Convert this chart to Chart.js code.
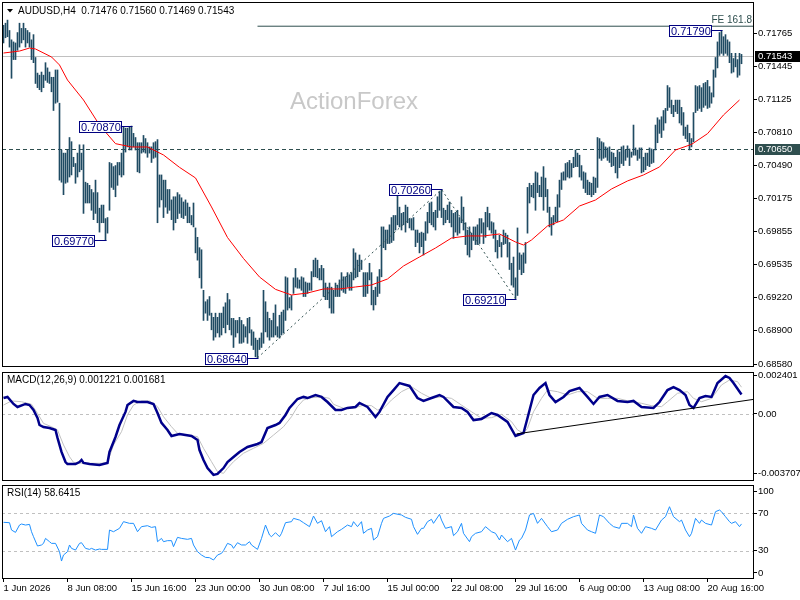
<!DOCTYPE html>
<html>
<head>
<meta charset="utf-8">
<script src="https://cdn.jsdelivr.net/npm/chart.js@4.4.1/dist/chart.umd.min.js"></script>
<style>
  html, body { margin: 0; padding: 0; background: #fff; }
  #wrap { position: relative; width: 800px; height: 600px; overflow: hidden; background: #fff; }
  canvas { position: absolute; left: 0; }
</style>
</head>
<body>
<div id="wrap">
  <canvas id="priceChart" width="800" height="368" style="top:0px"></canvas>
  <canvas id="macdChart" width="800" height="112" style="top:370px"></canvas>
  <canvas id="rsiChart" width="800" height="117" style="top:483px"></canvas>
</div>
<script>
// time axis (bar index) and its labels
const tickBars = [0, 32, 64, 96, 128, 160, 192, 224, 256, 288, 320, 352];
const tickLabels = ['1 Jun 2026', '8 Jun 08:00', '15 Jun 16:00', '23 Jun 00:00', '30 Jun 08:00', '7 Jul 16:00',
  '15 Jul 00:00', '22 Jul 08:00', '29 Jul 16:00', '6 Aug 00:00', '13 Aug 08:00', '20 Aug 16:00'];
const priceTicks = [0.71765, 0.71445, 0.71125, 0.70810, 0.70490, 0.70175, 0.69855, 0.69535, 0.69220, 0.68900, 0.68580];
const macdTicks = [0.002401, 0, -0.003707];
const macdTickLabels = ['0.002401', '0.00', '-0.003707'];
const rsiTicks = [93.5, 70, 30, 6.5];
const rsiTickLabels = ['100', '70', '30', '0'];

// H4 bars, high / low
const highs = [
  .7184,.7186,.7189,.7179,.7170,.7168,.7167,.7177,.7186,.7181,
  .7186,.7181,.7179,.7177,.7170,.7175,.7153,.7138,.7136,.7139,
  .7136,.7148,.7143,.7139,.7134,.7134,.7141,.7141,.7109,.7064,
  .7061,.7061,.7064,.7076,.7072,.7057,.7051,.7061,.7069,.7061,
  .7069,.7033,.7032,.7030,.7026,.7023,.7035,.7023,.7008,.7011,
  .7011,.6998,.6999,.7052,.7051,.7048,.7049,.7052,.7052,.7061,
  .7086,.7085,.7085,.7086,.7087,.7080,.7076,.7071,.7071,.7071,
  .7078,.7075,.7071,.7067,.7067,.7071,.7072,.7074,.7040,.7040,
  .7035,.7035,.7026,.7026,.7016,.7019,.7019,.7023,.7021,.7018,
  .7014,.7016,.7013,.7009,.7001,.7013,.6989,.6980,.6970,.6968,
  .6929,.6918,.6920,.6923,.6907,.6903,.6907,.6903,.6907,.6907,
  .6913,.6917,.6926,.6920,.6902,.6902,.6900,.6900,.6903,.6900,
  .6896,.6894,.6902,.6903,.6891,.6889,.6883,.6881,.6883,.6888,
  .6929,.6918,.6908,.6902,.6900,.6907,.6915,.6894,.6905,.6908,
  .6910,.6942,.6941,.6922,.6924,.6941,.6950,.6941,.6939,.6942,
  .6941,.6937,.6936,.6936,.6947,.6958,.6960,.6958,.6950,.6953,
  .6950,.6936,.6932,.6936,.6932,.6929,.6936,.6934,.6939,.6946,
  .6942,.6942,.6946,.6944,.6946,.6969,.6965,.6958,.6963,.6958,
  .6946,.6946,.6946,.6955,.6946,.6929,.6932,.6942,.6949,.6990,
  .6990,.6987,.6987,.6992,.6999,.7001,.7001,.7021,.7009,.7003,
  .7004,.7011,.7009,.6998,.6998,.6999,.6987,.6987,.6984,.6985,
  .6984,.6995,.7004,.7013,.7014,.7004,.7006,.7019,.7024,.7026,
  .7008,.7006,.7011,.7014,.7006,.7003,.7004,.7006,.6999,.7019,
  .7009,.6994,.6987,.6990,.6984,.6990,.6990,.6992,.6998,.6998,
  .6994,.7004,.7009,.7003,.6995,.6994,.6987,.6977,.6982,.6975,
  .6987,.6984,.6982,.6975,.6955,.6961,.6941,.6989,.6965,.6963,
  .6965,.6975,.7028,.7032,.7030,.7032,.7043,.7042,.7030,.7038,
  .7048,.7037,.7026,.7009,.6999,.7001,.7009,.7021,.7035,.7042,
  .7043,.7051,.7052,.7054,.7051,.7057,.7064,.7061,.7059,.7049,
  .7043,.7042,.7035,.7033,.7032,.7038,.7037,.7076,.7075,.7072,
  .7071,.7067,.7066,.7067,.7062,.7061,.7057,.7064,.7062,.7067,
  .7068,.7064,.7068,.7065,.7062,.7088,.7066,.7064,.7066,.7066,
  .7057,.7061,.7061,.7066,.7065,.7064,.7088,.7095,.7093,.7096,
  .7102,.7104,.7126,.7124,.7112,.7107,.7112,.7112,.7112,.7105,
  .7100,.7086,.7088,.7080,.7075,.7100,.7126,.7125,.7126,.7124,
  .7128,.7129,.7131,.7125,.7119,.7141,.7153,.7168,.7177,.7179,
  .7173,.7175,.7170,.7168,.7157,.7152,.7157,.7151,.7157,.7156
];
const lows = [
  .7167,.7172,.7173,.7163,.7133,.7151,.7151,.7160,.7163,.7167,
  .7170,.7163,.7167,.7163,.7151,.7148,.7128,.7124,.7122,.7120,
  .7124,.7131,.7129,.7128,.7120,.7102,.7109,.7110,.7035,.7033,
  .7021,.7032,.7033,.7038,.7040,.7048,.7032,.7038,.7043,.7045,
  .7003,.7013,.7013,.7013,.7006,.6997,.7003,.6994,.6985,.6994,
  .6994,.6977,.6984,.7006,.7028,.7026,.7019,.7030,.7040,.7038,
  .7040,.7062,.7067,.7064,.7064,.7067,.7064,.7043,.7042,.7061,
  .7062,.7061,.7057,.7061,.7052,.7056,.7057,.6994,.7009,.7016,
  .6999,.7009,.7003,.7006,.6997,.6987,.6994,.6998,.7003,.6999,
  .6998,.7001,.6994,.6994,.6992,.6990,.6965,.6958,.6941,.6931,
  .6900,.6907,.6900,.6905,.6891,.6881,.6884,.6888,.6884,.6886,
  .6893,.6888,.6896,.6891,.6886,.6874,.6884,.6888,.6878,.6878,
  .6879,.6884,.6878,.6888,.6876,.6872,.6865,.6864,.6872,.6874,
  .6878,.6889,.6884,.6881,.6884,.6884,.6886,.6884,.6883,.6886,
  .6888,.6900,.6910,.6912,.6910,.6926,.6932,.6931,.6931,.6929,
  .6923,.6923,.6926,.6929,.6929,.6942,.6942,.6941,.6939,.6939,
  .6923,.6920,.6920,.6912,.6907,.6907,.6923,.6923,.6923,.6929,
  .6927,.6926,.6932,.6929,.6929,.6939,.6941,.6942,.6947,.6949,
  .6923,.6923,.6926,.6939,.6915,.6910,.6915,.6923,.6926,.6942,
  .6970,.6968,.6974,.6974,.6975,.6977,.6987,.6992,.6990,.6987,
  .6992,.6985,.6994,.6989,.6987,.6987,.6971,.6975,.6965,.6971,
  .6963,.6977,.6984,.6994,.6992,.6990,.6987,.6999,.7006,.6999,
  .6992,.6994,.6997,.6994,.6990,.6979,.6985,.6982,.6984,.6994,
  .6987,.6973,.6963,.6961,.6968,.6977,.6973,.6973,.6974,.6984,
  .6974,.6980,.6990,.6987,.6984,.6979,.6966,.6960,.6971,.6961,
  .6973,.6974,.6961,.6949,.6934,.6932,.6921,.6924,.6949,.6944,
  .6946,.6955,.6984,.7013,.7019,.7018,.7006,.7023,.7019,.7019,
  .7006,.7019,.7004,.6990,.6982,.6992,.6995,.6995,.7009,.7026,
  .7035,.7035,.7038,.7037,.7038,.7047,.7048,.7048,.7038,.7035,
  .7027,.7023,.7021,.7021,.7019,.7021,.7023,.7028,.7056,.7054,
  .7056,.7057,.7054,.7052,.7048,.7049,.7042,.7037,.7047,.7051,
  .7049,.7054,.7057,.7049,.7057,.7059,.7059,.7054,.7056,.7042,
  .7043,.7045,.7049,.7048,.7051,.7052,.7064,.7071,.7080,.7076,
  .7083,.7090,.7102,.7105,.7099,.7096,.7101,.7099,.7090,.7088,
  .7078,.7075,.7072,.7064,.7067,.7072,.7100,.7102,.7104,.7101,
  .7105,.7107,.7104,.7105,.7109,.7115,.7134,.7143,.7155,.7157,
  .7155,.7157,.7155,.7148,.7138,.7139,.7144,.7134,.7136,.7147
];

// moving average: [bar, price]
const maLine = [[0,0.71573],[8,0.71592],[13,0.71621],[16,0.71612],[24,0.71535],[28,0.71458],[32,0.71313],
  [40,0.71121],[48,0.70880],[56,0.70701],[64,0.70669],[72,0.70669],[80,0.70592],[88,0.70473],[96,0.70371],
  [104,0.70092],[112,0.69798],[120,0.69596],[128,0.69418],[136,0.69299],[144,0.69245],[152,0.69264],
  [160,0.69303],[168,0.69303],[176,0.69322],[184,0.69341],[192,0.69399],[200,0.69524],[208,0.69611],
  [216,0.69697],[224,0.69793],[232,0.69813],[240,0.69813],[248,0.69832],[256,0.69755],[260,0.69726],
  [264,0.69774],[272,0.69909],[280,0.69967],[288,0.70101],[296,0.70159],[304,0.70265],[312,0.70342],
  [320,0.70400],[328,0.70477],[336,0.70640],[344,0.70694],[352,0.70797],[360,0.70977],[368,0.71121]];

const swingBars = [64, 51, 127, 219, 256, 359];
const swingPrices = [0.70870, 0.69770, 0.68640, 0.70260, 0.69210, 0.71790];
const fiboBars = [127, 219, 256];
const fiboPrices = [0.68640, 0.70260, 0.69210];
const feStartBar = 127;
const feLevel = 0.71831;
const bidPrice = 0.71543;
const levelPrice = 0.70650;
const lastOhlc = ['0.71476', '0.71560', '0.71469', '0.71543'];

// MACD(12,26,9): [bar, value]
const macdMain = [[0,0.00100],[2,0.00107],[5,0.00063],[7,0.00044],[11,0.00063],[13,0.00056],[15,0.00025],
  [17,-0.00025],[18,-0.00069],[20,-0.00082],[23,-0.00088],[26,-0.00100],[27,-0.00150],[29,-0.00238],
  [31,-0.00301],[32,-0.00314],[36,-0.00314],[38,-0.00301],[39,-0.00288],[40,-0.00307],[43,-0.00314],
  [48,-0.00320],[52,-0.00307],[53,-0.00238],[56,-0.00144],[58,-0.00069],[61,0.00013],[62,0.00056],
  [65,0.00082],[67,0.00075],[72,0.00075],[75,0.00063],[77,0.00006],[79,-0.00056],[82,-0.00100],
  [84,-0.00138],[88,-0.00125],[94,-0.00138],[97,-0.00163],[98,-0.00226],[100,-0.00288],[102,-0.00339],
  [105,-0.00382],[107,-0.00376],[110,-0.00339],[112,-0.00301],[115,-0.00270],[118,-0.00238],[122,-0.00207],
  [127,-0.00188],[129,-0.00176],[132,-0.00088],[136,-0.00069],[138,-0.00056],[141,-0.00006],[143,0.00038],
  [147,0.00094],[150,0.00107],[152,0.00100],[156,0.00119],[159,0.00107],[162,0.00075],[166,0.00025],
  [169,0.00025],[172,0.00038],[176,0.00044],[178,0.00069],[182,0.00044],[184,0.00013],[186,-0.00019],
  [188,0.00013],[192,0.00107],[195,0.00150],[198,0.00194],[203,0.00176],[207,0.00100],[210,0.00082],
  [214,0.00100],[218,0.00119],[220,0.00107],[225,0.00044],[229,0.00038],[232,0.00013],[235,-0.00038],
  [239,-0.00031],[244,0.00006],[247,-0.00006],[252,-0.00050],[256,-0.00138],[260,-0.00119],[262,-0.00025],
  [265,0.00119],[268,0.00163],[271,0.00194],[273,0.00119],[276,0.00075],[280,0.00107],[283,0.00144],
  [288,0.00163],[292,0.00107],[295,0.00063],[298,0.00107],[302,0.00119],[307,0.00082],[312,0.00075],
  [315,0.00082],[319,0.00044],[325,0.00038],[328,0.00075],[332,0.00150],[335,0.00169],[338,0.00150],
  [341,0.00119],[343,0.00056],[345,0.00038],[348,0.00100],[351,0.00113],[354,0.00107],[357,0.00194],
  [361,0.00238],[363,0.00226],[365,0.00194],[369,0.00122]];
const macdSignal = [[0,0.00056],[4,0.00082],[9,0.00077],[14,0.00061],[17,0.00004],[20,-0.00059],[24,-0.00080],
  [27,-0.00100],[30,-0.00194],[33,-0.00268],[35,-0.00303],[39,-0.00309],[49,-0.00309],[52,-0.00303],
  [55,-0.00194],[59,-0.00111],[62,-0.00006],[65,0.00056],[69,0.00082],[73,0.00082],[77,0.00046],
  [80,-0.00017],[84,-0.00080],[87,-0.00121],[92,-0.00132],[97,-0.00142],[100,-0.00215],[104,-0.00299],
  [107,-0.00362],[110,-0.00372],[112,-0.00340],[115,-0.00299],[120,-0.00246],[125,-0.00215],[130,-0.00184],
  [135,-0.00132],[140,-0.00080],[144,-0.00017],[147,0.00046],[150,0.00088],[154,0.00102],[159,0.00108],
  [163,0.00098],[165,0.00061],[170,0.00036],[175,0.00036],[180,0.00056],[184,0.00052],[187,0.00025],
  [190,0.00036],[194,0.00088],[199,0.00140],[204,0.00171],[209,0.00130],[214,0.00098],[219,0.00108],
  [224,0.00098],[229,0.00056],[234,0.00014],[239,-0.00027],[244,-0.00023],[249,-0.00002],[254,-0.00048],
  [257,-0.00100],[260,-0.00121],[262,-0.00090],[265,0.00014],[269,0.00098],[272,0.00150],[277,0.00140],
  [282,0.00119],[287,0.00140],[292,0.00140],[297,0.00098],[302,0.00098],[307,0.00098],[314,0.00077],
  [319,0.00067],[324,0.00052],[329,0.00046],[332,0.00077],[337,0.00130],[342,0.00140],[345,0.00098],
  [349,0.00077],[354,0.00098],[359,0.00182],[363,0.00213],[367,0.00203],[369,0.00168]];
const macdTrend = [[256.5, -0.00125], [375.25, 0.00092]];
const macdLast = ['0.001221', '0.001681'];

// RSI(14): [bar, value]
const rsiLine = [[0,60.3],[3,59.9],[4,52.1],[6,49.6],[8,57.4],[9,58.5],[11,57.4],[13,58.1],[14,50.3],[15,45.0],
  [17,35.1],[19,36.2],[20,37.9],[21,43.2],[23,39.7],[24,37.9],[26,37.9],[28,29.1],[29,19.1],[30,25.5],
  [32,29.1],[33,36.2],[34,32.6],[36,30.8],[38,37.9],[39,38.6],[41,32.6],[43,31.5],[44,32.6],[46,30.8],
  [48,31.9],[49,31.5],[52,31.5],[53,52.1],[55,50.3],[58,53.9],[60,61.0],[63,59.2],[65,59.2],[67,50.3],
  [69,55.7],[72,56.7],[74,54.9],[76,55.7],[77,39.7],[79,43.2],[80,39.7],[82,40.8],[84,40.8],[85,34.4],
  [87,44.3],[89,43.2],[92,42.2],[94,43.2],[95,36.2],[97,29.1],[99,25.5],[101,23.0],[103,22.7],[105,20.2],
  [107,25.5],[109,27.3],[110,30.1],[112,37.9],[114,36.2],[115,32.6],[117,38.6],[119,36.2],[121,36.2],
  [123,39.7],[124,36.2],[127,31.5],[129,43.2],[131,57.4],[133,46.8],[134,45.0],[136,49.3],[138,45.0],
  [139,48.6],[141,59.9],[144,61.0],[145,64.5],[148,62.7],[150,59.9],[153,55.7],[155,67.0],[157,59.2],
  [159,62.0],[161,50.3],[163,55.7],[164,45.0],[167,50.3],[169,52.8],[172,57.4],[174,55.7],[175,61.0],
  [177,55.7],[179,61.0],[180,48.6],[182,52.1],[184,53.9],[185,41.5],[187,45.0],[189,59.2],[190,64.5],
  [193,67.0],[195,69.8],[199,68.1],[201,65.6],[204,63.5],[205,55.7],[207,47.5],[209,53.9],[210,53.9],
  [212,61.0],[214,63.5],[215,59.2],[218,68.8],[219,62.7],[221,53.9],[224,55.7],[225,46.1],[227,50.3],
  [229,59.2],[230,48.6],[233,39.7],[234,45.0],[236,48.6],[239,50.3],[241,55.7],[244,50.3],[246,48.6],
  [248,41.5],[249,46.8],[252,39.7],[254,43.2],[256,30.8],[258,41.5],[259,43.2],[261,52.1],[263,68.1],
  [265,69.8],[267,59.2],[269,64.5],[272,55.7],[274,50.3],[277,52.1],[279,59.2],[282,63.5],[285,66.3],
  [288,68.1],[289,59.2],[292,52.1],[294,50.3],[296,48.6],[298,68.1],[300,66.3],[303,59.2],[305,55.7],
  [308,53.9],[309,59.2],[312,59.2],[314,55.7],[315,68.1],[317,53.9],[319,48.6],[321,55.7],[324,53.9],
  [326,52.1],[329,62.7],[331,66.3],[333,76.9],[335,66.3],[338,61.0],[339,62.7],[341,52.1],[343,45.0],
  [344,48.6],[346,64.5],[348,59.2],[349,62.7],[351,59.2],[354,57.4],[356,71.6],[358,73.4],[359,71.6],
  [361,66.3],[363,61.0],[364,59.2],[366,61.0],[368,55.7],[369,58.6]];
const rsiLevels = [70, 30];
const rsiLast = '58.6415';

const XMIN = -0.75, XMAX = 375.25;
const FONT = '"Liberation Sans", Arial, sans-serif';
const AXIS_SIZE = 9.5;
const BAR_COLOR = '#1f4b63';

const pts = arr => arr.map(p => ({ x: p[0], y: p[1] }));

function hline(chart, value, color, dash) {
  const { ctx, chartArea: a, scales } = chart;
  const py = Math.round(scales.y.getPixelForValue(value)) + 0.5;
  ctx.save();
  ctx.strokeStyle = color;
  ctx.lineWidth = 1;
  ctx.setLineDash(dash || []);
  ctx.beginPath();
  ctx.moveTo(a.left, py);
  ctx.lineTo(a.right, py);
  ctx.stroke();
  ctx.restore();
}

function frame(chart) {
  const { ctx, chartArea: a } = chart;
  ctx.save();
  ctx.strokeStyle = '#000';
  ctx.lineWidth = 1;
  ctx.strokeRect(a.left + 0.5, a.top + 0.5, a.right - a.left - 1, a.bottom - a.top - 1);
  ctx.restore();
}

function text(ctx, str, x, y, color, size, align) {
  ctx.save();
  ctx.font = size + 'px ' + FONT;
  ctx.fillStyle = color;
  ctx.textAlign = align || 'left';
  ctx.textBaseline = 'middle';
  ctx.fillText(str, x, y);
  ctx.restore();
}

function yAxis(min, max, ticks, labelFn) {
  return {
    type: 'linear', position: 'right', min: min, max: max,
    afterFit(s) { s.width = 46; s.paddingTop = 0; s.paddingBottom = 0; },
    afterBuildTicks(s) { s.ticks = ticks.map(v => ({ value: v })); },
    ticks: { callback: labelFn, autoSkip: false, padding: 1, color: '#000', font: { family: FONT, size: AXIS_SIZE } },
    grid: { display: true, drawOnChartArea: false, drawTicks: true, tickLength: 3, color: '#000' },
    border: { display: false }
  };
}

function hiddenX() {
  return { type: 'linear', min: XMIN, max: XMAX, display: false, offset: false };
}

function baseOptions(yScale, xScale, bottomPad) {
  return {
    responsive: false, animation: false, devicePixelRatio: 1,
    layout: { padding: { left: 2, right: 0, top: 2, bottom: bottomPad } },
    plugins: { legend: { display: false }, tooltip: { enabled: false } },
    scales: { x: xScale, y: yScale }
  };
}

// ---------- price panel ----------
const pricePlugin = {
  id: 'pricePlugin',
  beforeDatasetsDraw(chart) {
    const { ctx } = chart;
    ctx.save();
    ctx.font = '24px ' + FONT;
    ctx.fillStyle = '#c8c8c8';
    ctx.textBaseline = 'middle';
    ctx.fillText('ActionForex', 290, 102);
    ctx.restore();
    hline(chart, bidPrice, '#c0c0c0');
    hline(chart, levelPrice, '#2f4f4f', [4, 3]);
  },
  afterDatasetsDraw(chart) {
    const { ctx, scales: { x, y }, chartArea: a } = chart;
    ctx.save();
    swingBars.forEach((b, i) => {
      const bx = x.getPixelForValue(b);
      const py = Math.round(y.getPixelForValue(swingPrices[i]));
      const right = Math.round(bx) - 10;
      const left = right - 43;
      ctx.fillStyle = '#fff';
      ctx.fillRect(left, py - 5, 43, 12);
      ctx.strokeStyle = '#000080';
      ctx.lineWidth = 1;
      ctx.strokeRect(left + 0.5, py - 4.5, 42, 11);
      ctx.beginPath();
      ctx.moveTo(right, py + 0.5);
      ctx.lineTo(bx + 1, py + 0.5);
      ctx.stroke();
      text(ctx, swingPrices[i].toFixed(5), left + 2, py + 1.5, '#000080', 11);
    });
    const fy = y.getPixelForValue(feLevel);
    text(ctx, 'FE 161.8', a.right - 2, fy - 6, '#2f4f4f', 10, 'right');
    ctx.restore();
  },
  afterDraw(chart) {
    const { ctx, scales: { y }, chartArea: a } = chart;
    frame(chart);
    // title
    ctx.save();
    ctx.fillStyle = '#000';
    ctx.beginPath();
    ctx.moveTo(7, 9); ctx.lineTo(13, 9); ctx.lineTo(10, 12.5); ctx.closePath();
    ctx.fill();
    ctx.restore();
    text(ctx, 'AUDUSD,H4  ' + lastOhlc.join(' '), 18, 11, '#000', 10);
    // price boxes on the axis
    [[bidPrice, '#000'], [levelPrice, '#2f4f4f']].forEach(([v, bg]) => {
      const py = Math.round(y.getPixelForValue(v));
      ctx.fillStyle = bg;
      ctx.fillRect(a.right + 1, py - 5, 800 - a.right - 1, 11);
      text(ctx, v.toFixed(5), a.right + 4, py + 0.5, '#fff', AXIS_SIZE);
    });
  }
};

new Chart(document.getElementById('priceChart'), {
  type: 'bar',
  data: {
    datasets: [
      {
        type: 'line', data: pts(maLine), borderColor: '#ff0000', borderWidth: 1,
        pointRadius: 0, tension: 0, order: 1
      },
      {
        type: 'line', data: fiboBars.map((b, i) => ({ x: b, y: fiboPrices[i] })),
        borderColor: '#2f4f4f', borderWidth: 1, borderDash: [2, 3], pointRadius: 0, tension: 0, order: 2
      },
      {
        type: 'line', data: [{ x: feStartBar, y: feLevel }, { x: XMAX, y: feLevel }],
        borderColor: '#2f4f4f', borderWidth: 1, pointRadius: 0, order: 2
      },
      {
        type: 'bar', data: highs.map((h, i) => ({ x: i, y: [lows[i], h] })),
        backgroundColor: BAR_COLOR, borderWidth: 0, barThickness: 1, grouped: false, order: 3
      }
    ]
  },
  options: baseOptions(
    yAxis(0.68552, 0.72064, priceTicks, v => v.toFixed(5)),
    hiddenX(), 1),
  plugins: [pricePlugin]
});

// ---------- MACD panel ----------
const macdPlugin = {
  id: 'macdPlugin',
  beforeDatasetsDraw(chart) { hline(chart, 0, '#c0c0c0', [3, 3]); },
  afterDraw(chart) {
    frame(chart);
    text(chart.ctx, 'MACD(12,26,9) ' + macdLast.join(' '), 7, 10, '#000', 10);
  }
};

new Chart(document.getElementById('macdChart'), {
  type: 'line',
  data: {
    datasets: [
      { data: pts(macdTrend), borderColor: '#000', borderWidth: 1, pointRadius: 0, order: 1 },
      { data: pts(macdMain), borderColor: '#00008b', borderWidth: 2.5, pointRadius: 0, tension: 0, order: 2 },
      { data: pts(macdSignal), borderColor: '#c0c0c0', borderWidth: 1, pointRadius: 0, tension: 0, order: 3 }
    ]
  },
  options: baseOptions(
    yAxis(-0.004201, 0.002633, macdTicks, (v, i) => macdTickLabels[i]),
    hiddenX(), 1),
  plugins: [macdPlugin]
});

// ---------- RSI panel ----------
const rsiPlugin = {
  id: 'rsiPlugin',
  beforeDatasetsDraw(chart) { rsiLevels.forEach(l => hline(chart, l, '#c0c0c0', [3, 3])); },
  afterDraw(chart) {
    frame(chart);
    text(chart.ctx, 'RSI(14) ' + rsiLast, 7, 10, '#000', 10);
  }
};

new Chart(document.getElementById('rsiChart'), {
  type: 'line',
  data: {
    datasets: [
      { data: pts(rsiLine), borderColor: '#1e90ff', borderWidth: 1, pointRadius: 0, tension: 0 }
    ]
  },
  options: baseOptions(
    yAxis(0, 100, rsiTicks, (v, i) => rsiTickLabels[i]),
    {
      type: 'linear', min: XMIN, max: XMAX, offset: false,
      afterBuildTicks(s) { s.ticks = tickBars.map(v => ({ value: v })); },
      afterFit(s) { s.height = 21; s.paddingLeft = 0; s.paddingRight = 0; },
      ticks: {
        callback: (v, i) => tickLabels[i], align: 'start', autoSkip: false, maxRotation: 0,
        padding: 1, color: '#000', font: { family: FONT, size: AXIS_SIZE }
      },
      grid: { display: true, drawOnChartArea: false, drawTicks: true, tickLength: 3, color: '#000' },
      border: { display: false }
    }, 0),
  plugins: [rsiPlugin]
});
</script>
</body>
</html>
